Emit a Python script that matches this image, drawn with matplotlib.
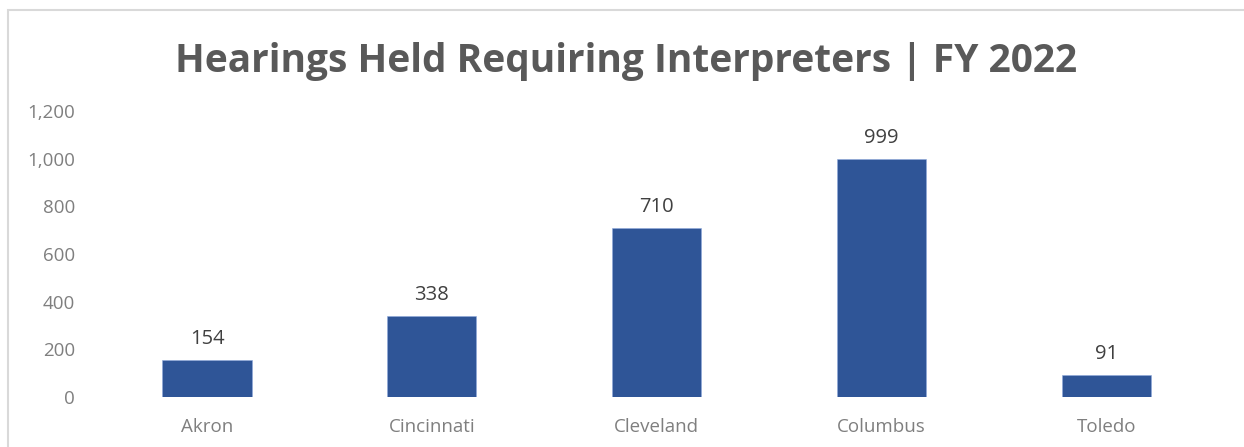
import matplotlib.pyplot as plt
from matplotlib.patches import Rectangle
from matplotlib.ticker import FuncFormatter

# Chart data
cities = ['Akron', 'Cincinnati', 'Cleveland', 'Columbus', 'Toledo']
hearings = [154, 338, 710, 999, 91]
yticks = [0, 200, 400, 600, 800, 1000, 1200]

plt.rcParams['font.family'] = ['Open Sans', 'DejaVu Sans']

fig = plt.figure(figsize=(12.44, 4.47), dpi=100)
ax = fig.add_axes([0.076, 0.1125, 0.904, 0.6387])

# light gray chart border (cut off at right/bottom like the screenshot)
fig.patches.append(Rectangle((8 / 1244, -0.1), 1.2, 1 - 10 / 447 + 0.1,
                             transform=fig.transFigure, fill=False,
                             edgecolor='#D9D9D9', linewidth=1.5))

x = range(len(cities))
bars = ax.bar(x, hearings, width=0.396, color='#2F5597', edgecolor='#8FAADC', linewidth=0.4)

for b, v in zip(bars, hearings):
    ax.annotate(f'{v:,}', (b.get_x() + b.get_width() / 2, v), xytext=(0, 8),
                textcoords='offset points', ha='center', va='bottom',
                fontsize=14.5, color='#404040')

ax.set_xlim(-0.5, len(cities) - 0.5)
ax.set_ylim(0, 1200)
ax.set_yticks(yticks)
ax.yaxis.set_major_formatter(FuncFormatter(lambda v, p: f'{int(v):,}'))
ax.set_xticks(list(x))
ax.set_xticklabels(cities)
ax.tick_params(axis='both', length=0, labelsize=13.5, colors='#7F7F7F')
ax.tick_params(axis='y', pad=14)
ax.tick_params(axis='x', pad=15)
for s in ax.spines.values():
    s.set_visible(False)

fig.text(0.503, 0.862, 'Hearings Held Requiring Interpreters | FY 2022',
         ha='center', va='center', fontsize=28, fontweight='bold', color='#595959')

fig.savefig('out.png', dpi=100)
